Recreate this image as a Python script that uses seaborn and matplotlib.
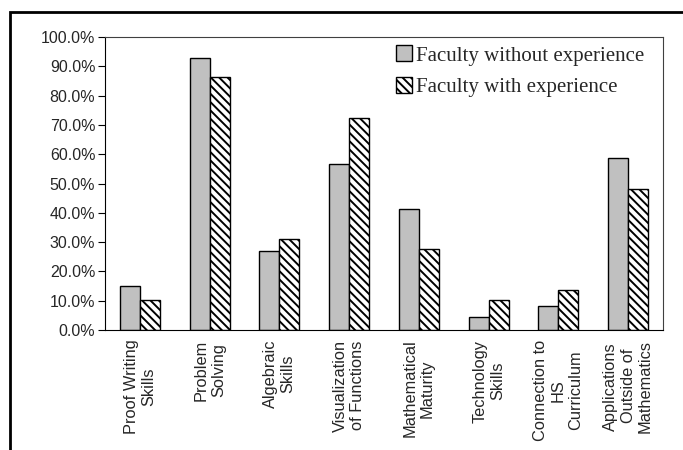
import matplotlib
matplotlib.use("Agg")
import matplotlib.pyplot as plt
import matplotlib.patches as mpatches
from matplotlib.ticker import PercentFormatter
import seaborn as sns
import pandas as pd

categories = [
    "Proof Writing\nSkills",
    "Problem\nSolving",
    "Algebraic\nSkills",
    "Visualization\nof Functions",
    "Mathematical\nMaturity",
    "Technology\nSkills",
    "Connection to\nHS\nCurriculum",
    "Applications\nOutside of\nMathematics",
]
series_names = ["Faculty without experience", "Faculty with experience"]
without_exp = [15.1, 92.9, 27.0, 56.5, 41.2, 4.5, 8.1, 58.8]
with_exp = [10.1, 86.2, 31.0, 72.5, 27.6, 10.1, 13.8, 48.1]

df = pd.DataFrame({
    "category": categories * 2,
    "group": [series_names[0]] * len(categories) + [series_names[1]] * len(categories),
    "value": without_exp + with_exp,
})

sns.set_style("white")
plt.rcParams["font.family"] = ["Liberation Sans", "DejaVu Sans"]
plt.rcParams["hatch.linewidth"] = 1.4

fig = plt.figure(figsize=(6.83, 4.5), dpi=100)
ax = fig.add_axes([105 / 683, 1 - 330 / 450, (663 - 105) / 683, (330 - 37) / 450])

sns.barplot(data=df, x="category", y="value", hue="group",
            palette=["#C0C0C0", "white"], width=0.57,
            edgecolor="black", linewidth=1.0, saturation=1,
            legend=False, ax=ax)

# second series gets the diagonal hatch
n = len(categories)
for i, bar in enumerate(ax.patches[:2 * n]):
    if i >= n:
        bar.set_hatch("\\\\\\\\")

ax.set_ylim(0, 100)
ax.set_xlim(-0.5, n - 0.5)
ax.set_yticks(range(0, 101, 10))
ax.yaxis.set_major_formatter(PercentFormatter(decimals=1))
ax.set_xlabel("")
ax.set_ylabel("")
ax.tick_params(axis="y", which="major", length=5, width=0.8, left=True,
               labelsize=11.5, pad=2, color="black")
ax.tick_params(axis="x", length=0, labelsize=11.8, pad=7)
ax.set_xticks(range(n))
ax.set_xticklabels(categories, rotation=90, ha="center", va="top",
                   multialignment="center", linespacing=1.2)
for s in ax.spines.values():
    s.set_color("#404040")
    s.set_linewidth(0.8)
ax.spines["bottom"].set_color("black")
ax.spines["left"].set_color("black")

handles = [
    mpatches.Patch(facecolor="#C0C0C0", edgecolor="black", linewidth=1.0),
    mpatches.Patch(facecolor="white", edgecolor="black", linewidth=1.0, hatch="\\\\\\\\"),
]
ax.legend(handles, series_names, loc="upper right", bbox_to_anchor=(0.982, 1.0),
          frameon=False, prop={"family": "Liberation Serif", "size": 15},
          handlelength=0.8, handleheight=0.8, handletextpad=0.2,
          labelspacing=0.55, borderaxespad=0.0)

# outer frame around the whole figure (cut off on right and bottom)
fig.patches.append(mpatches.Rectangle((10 / 683, -0.1), 1.2, 1 - 12 / 450 + 0.1,
                                      transform=fig.transFigure, fill=False,
                                      edgecolor="black", linewidth=2.0))

fig.savefig("out.png", dpi=100, facecolor="white")
